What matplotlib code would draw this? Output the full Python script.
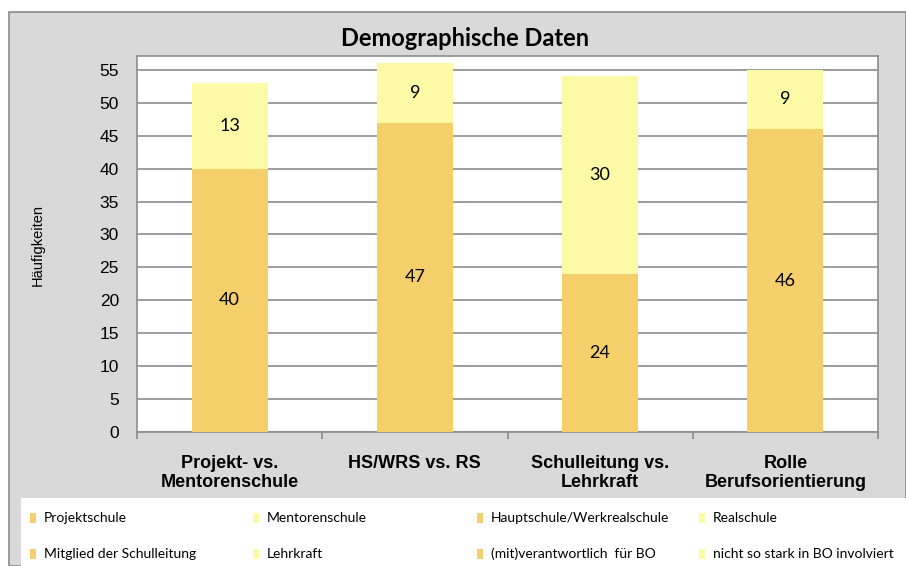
import matplotlib
matplotlib.use("Agg")
import matplotlib.pyplot as plt
from matplotlib.patches import Rectangle

categories = ["Projekt- vs.\nMentorenschule", "HS/WRS vs. RS", "Schulleitung vs.\nLehrkraft", "Rolle\nBerufsorientierung"]
bottom_values = [40, 47, 24, 46]
top_values = [13, 9, 30, 9]
bottom_names = ["Projektschule", "Hauptschule/Werkrealschule", "Mitglied der Schulleitung", "(mit)verantwortlich  für BO"]
top_names = ["Mentorenschule", "Realschule", "Lehrkraft", "nicht so stark in BO involviert"]
yticks = [0, 5, 10, 15, 20, 25, 30, 35, 40, 45, 50, 55]

DARK = "#F5D06A"
LIGHT = "#FCFAA6"
GRID = "#8C8C8C"
BG = "#D9D9D9"

W, H = 906, 566
fig = plt.figure(figsize=(W / 100, H / 100), dpi=100)
fig.patch.set_facecolor("white")

def fx(px):
    return px / W

def fy(py):
    return 1 - py / H

# outer gray chart area
fig.patches.append(Rectangle((fx(9), fy(566)), fx(906) - fx(9), fy(12) - fy(566),
                             transform=fig.transFigure, facecolor=BG, edgecolor="#8C8C8C",
                             linewidth=1.2, zorder=-3))
# white legend area
fig.patches.append(Rectangle((fx(21), fy(566)), fx(906) - fx(21), fy(498) - fy(566),
                             transform=fig.transFigure, facecolor="white", edgecolor="none",
                             zorder=-2))

ax = fig.add_axes([fx(137), fy(432), fx(878) - fx(137), fy(56) - fy(432)])
ax.set_zorder(2)
ax.set_facecolor("white")
x = list(range(len(categories)))
width = 0.41
ax.bar(x, bottom_values, width=width, color=DARK, zorder=3)
ax.bar(x, top_values, width=width, bottom=bottom_values, color=LIGHT, zorder=3)

for i in x:
    b = bottom_values[i]
    t = top_values[i]
    ax.text(i, b / 2, str(b), ha="center", va="center", fontsize=13, family="Lato", zorder=4)
    ax.text(i, b + t / 2, str(t), ha="center", va="center", fontsize=13, family="Lato", zorder=4)

ax.set_xlim(-0.5, len(categories) - 0.5)
ax.set_ylim(0, 57.1)
ax.set_yticks(yticks)
ax.set_yticklabels([str(v) for v in yticks], family="Liberation Sans", fontsize=12.5)
ax.yaxis.grid(True, color=GRID, linewidth=1.2, zorder=0)
ax.set_axisbelow(True)
ax.tick_params(axis="y", length=0, pad=13)
ax.set_xticks([i - 0.5 for i in range(len(categories) + 1)])
ax.set_xticklabels([])
ax.tick_params(axis="x", length=5, color=GRID, width=1.2)
ax.set_xticks(x, minor=True)
ax.set_xticklabels(categories, minor=True, family="Liberation Sans", fontsize=13,
                   fontweight="bold", linespacing=1.15)
ax.tick_params(axis="x", which="minor", length=0, pad=16.5)
for s in ax.spines.values():
    s.set_color(GRID)
    s.set_linewidth(1.2)

fig.text(fx(465), fy(39), "Demographische Daten", ha="center", va="center",
         fontsize=17, fontweight="bold", family="Lato")
fig.text(fx(38), fy(245), "Häufigkeiten", ha="center", va="center", rotation=90,
         fontsize=10.5, family="Liberation Sans")

# legend
col_x = [30, 253, 477, 699]
row_y = [518, 554]
entries = [
    (bottom_names[0], DARK), (top_names[0], LIGHT), (bottom_names[1], DARK), (top_names[1], LIGHT),
    (bottom_names[2], DARK), (top_names[2], LIGHT), (bottom_names[3], DARK), (top_names[3], LIGHT),
]
for k, (name, col) in enumerate(entries):
    r, c = divmod(k, 4)
    px, py = col_x[c], row_y[r]
    fig.patches.append(Rectangle((fx(px), fy(py + 5)), fx(6), 10 / H, transform=fig.transFigure,
                                 facecolor=col, edgecolor="none", zorder=2))
    fig.text(fx(px + 14), fy(py), name, ha="left", va="center", fontsize=10,
             family="Lato", zorder=3)

fig.savefig("out.png", dpi=100)
